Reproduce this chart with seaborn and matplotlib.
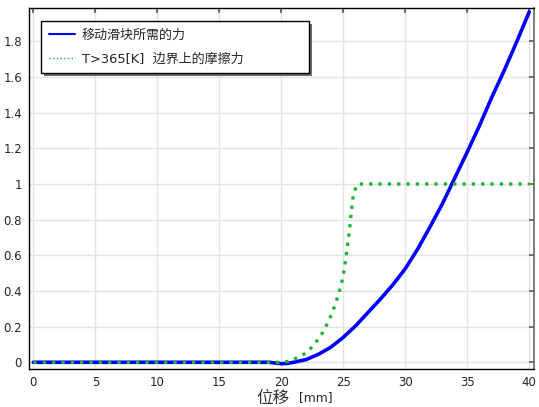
import numpy as np
import pandas as pd
import matplotlib
matplotlib.use('Agg')
import matplotlib.pyplot as plt
from matplotlib.lines import Line2D
import seaborn as sns

# dane
x_force = [0, 5, 10, 15, 19, 19.5, 20, 20.5, 21, 22, 23, 24, 25, 26, 27, 28, 29, 30,
           31, 32, 33, 34, 35, 36, 37, 38, 39, 40]
y_force = [0, 0, 0, 0, 0, -0.004, -0.008, -0.006, 0.0, 0.015, 0.045, 0.085, 0.14,
           0.205, 0.28, 0.355, 0.435, 0.525, 0.635, 0.76, 0.89, 1.035, 1.18,
           1.33, 1.49, 1.64, 1.80, 1.966]

x_fric = [0, 5, 10, 15, 20, 20.7, 21.4, 22.1, 22.6, 23.05, 23.45, 23.8, 24.1,
          24.35, 24.6, 24.8, 24.97, 25.1, 25.2, 25.3, 25.4, 25.5, 25.57, 25.65,
          25.73, 25.84, 26.15, 30, 35, 40]
y_fric = [0, 0, 0, 0, 0, 0.006, 0.03, 0.056, 0.097, 0.135, 0.18, 0.23, 0.277,
          0.325, 0.378, 0.428, 0.48, 0.53, 0.583, 0.637, 0.688, 0.74, 0.794,
          0.847, 0.897, 0.95, 1.0, 1.0, 1.0, 1.0]

labels = ['移动滑块所需的力', 'T>365[K]  边界上的摩擦力']
x_ticks = [0, 5, 10, 15, 20, 25, 30, 35, 40]
y_ticks = [0, 0.2, 0.4, 0.6, 0.8, 1, 1.2, 1.4, 1.6, 1.8]

df_force = pd.DataFrame({'x': x_force, 'y': y_force})
df_fric = pd.DataFrame({'x': x_fric, 'y': y_fric})

sns.set_style('white')
plt.rcParams['font.family'] = ['DejaVu Sans', 'Noto Sans CJK SC']

blue = '#0000ff'
green = '#22b33a'

fig = plt.figure(figsize=(5.39, 4.07), dpi=100)
ax = fig.add_axes([0.0538, 0.0934, 0.9369, 0.8869])

sns.lineplot(data=df_force, x='x', y='y', ax=ax, color=blue, linewidth=2.6,
             estimator=None, sort=False)
sns.lineplot(data=df_fric, x='x', y='y', ax=ax, color=green, linewidth=2.4,
             estimator=None, sort=False, dashes=False)
ax.lines[-1].set_dashes((1, 1.8))
ax.lines[-1].set_dash_capstyle('butt')

ax.set_xlim(-0.35, 40.38)
ax.set_ylim(-0.0376, 1.987)
ax.set_xticks(x_ticks)
ax.set_yticks(y_ticks)
ax.set_xticklabels([f'{v:g}' for v in x_ticks])
ax.set_yticklabels([f'{v:g}' for v in y_ticks])
ax.grid(True, color='#e4e4e4', linewidth=1)
ax.set_axisbelow(True)

ax.tick_params(direction='in', length=3.5, width=1.3, color='#666666',
               top=True, right=True, labelsize=8.5, pad=5)
for side in ['left', 'bottom', 'top']:
    ax.spines[side].set_color('black')
    ax.spines[side].set_linewidth(1)
ax.spines['right'].set_color('#666666')
ax.spines['right'].set_linewidth(1.2)

# podpis osi x: chińskie znaki większe niż jednostka
ax.set_xlabel('')
ax.set_ylabel('')
ax.text(0.483, -0.08, '位移', transform=ax.transAxes, fontsize=12,
        ha='center', va='center', color='#333333')
ax.text(0.535, -0.08, '[mm]', transform=ax.transAxes, fontsize=8.8,
        ha='left', va='center')

handles = [Line2D([], [], color=blue, linewidth=1.5),
           Line2D([], [], color=green, linewidth=1.0, linestyle=':')]
leg = ax.legend(handles=handles, labels=labels, loc='upper left',
                bbox_to_anchor=(0.024, 0.82, 0.531, 0.144), mode='expand',
                borderaxespad=0, fancybox=False,
                shadow={'facecolor': '#6a6a6a', 'edgecolor': 'none', 'alpha': 1},
                framealpha=1, edgecolor='black', fontsize=9.4, handlelength=2.0,
                handletextpad=0.5, labelspacing=0.8, borderpad=0.6)
leg.get_frame().set_linewidth(1)

fig.savefig('out.png', dpi=100)
